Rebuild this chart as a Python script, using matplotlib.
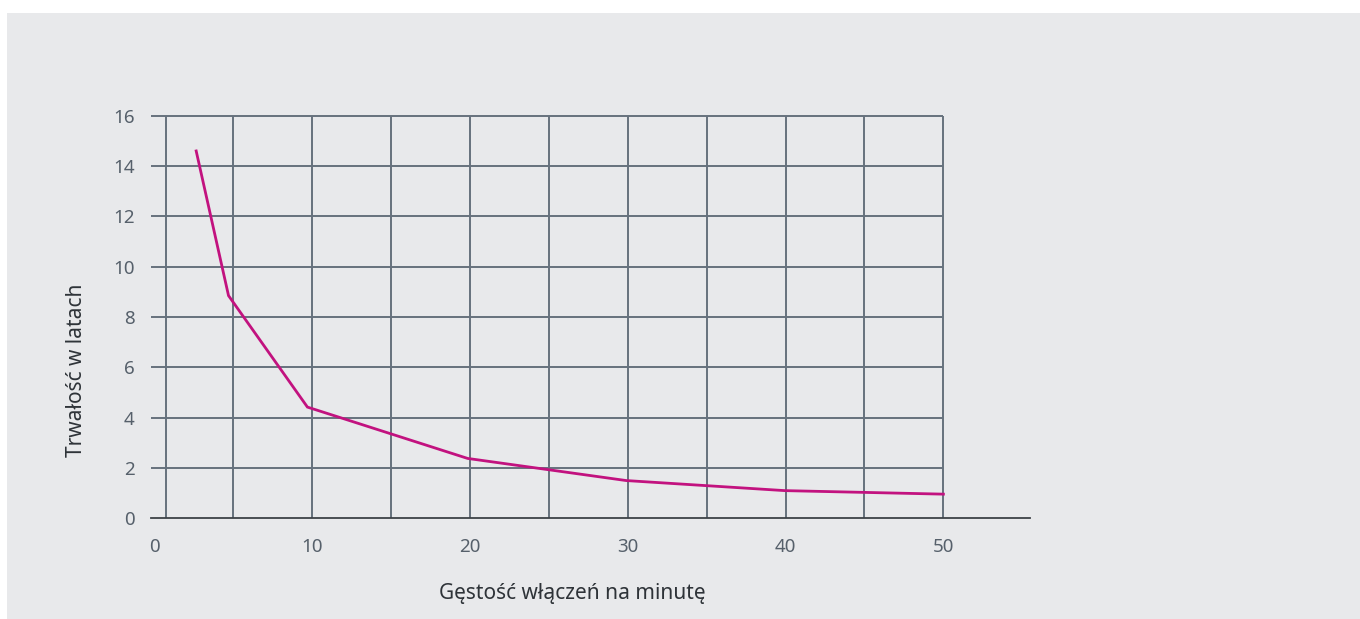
import matplotlib
matplotlib.use("Agg")
import matplotlib.pyplot as plt
from matplotlib.patches import Rectangle

# ---------------------------------------------------------------------------
# Data
# ---------------------------------------------------------------------------
switch_rate = [2.65, 4.7, 9.7, 19.85, 29.9, 39.95, 50.0]   # switchings per minute
lifetime_years = [14.6, 8.85, 4.42, 2.38, 1.5, 1.1, 0.96]

x_ticks = [0, 10, 20, 30, 40, 50]
y_ticks = [0, 2, 4, 6, 8, 10, 12, 14, 16]

X_LABEL = "Gęstość włączeń na minutę"
Y_LABEL = "Trwałość w latach"

BG = "#e8e9eb"
GRID = "#66717d"
TICK_TXT = "#56606b"
LABEL_TXT = "#2e3338"
LINE = "#c2127f"

plt.rcParams["font.family"] = ["Noto Sans", "DejaVu Sans"]

W, H = 1360, 619
fig = plt.figure(figsize=(W / 100, H / 100), dpi=100, facecolor="white")
# grey panel (white strip on top and left)
fig.patches.append(Rectangle((7 / W, 0), 1, 1 - 13 / H, transform=fig.transFigure,
                             facecolor=BG, edgecolor="none", zorder=-10))

ax = fig.add_axes([151.2 / W, (H - 518.3) / H, 879 / W, 16.2 * 25.16 / H])
ax.set_zorder(2)
ax.set_facecolor("none")
ax.set_xlim(-0.2, 55.5)
ax.set_ylim(0, 16.2)

# grid box: horizontal lines up to x=50, vertical lines every 5
ax.hlines(y_ticks[1:], -0.2, 50, colors=GRID, linewidth=1.4, zorder=1)
ax.vlines([0.72] + list(range(5, 51, 5)), 0, 16, colors=GRID, linewidth=1.4, zorder=1)

ax.plot(switch_rate, lifetime_years, color=LINE, linewidth=2.0, zorder=3,
        solid_joinstyle="miter")

for side in ("top", "right", "left"):
    ax.spines[side].set_visible(False)
ax.spines["bottom"].set_color("#3d4247")
ax.spines["bottom"].set_linewidth(1.3)

ax.set_xticks(x_ticks)
ax.set_yticks(y_ticks)
ax.tick_params(axis="both", length=0, labelsize=13.5, labelcolor=TICK_TXT)
ax.tick_params(axis="y", pad=12)
ax.tick_params(axis="x", pad=14)

fig.text(76 / W, 1 - 370 / H, Y_LABEL, rotation=90, ha="center", va="center",
         fontsize=15, color=LABEL_TXT, zorder=3)
fig.text(572 / W, 1 - 593 / H, X_LABEL, ha="center", va="center",
         fontsize=15, color=LABEL_TXT, zorder=3)

fig.savefig("out.png", dpi=100, facecolor=fig.get_facecolor())
